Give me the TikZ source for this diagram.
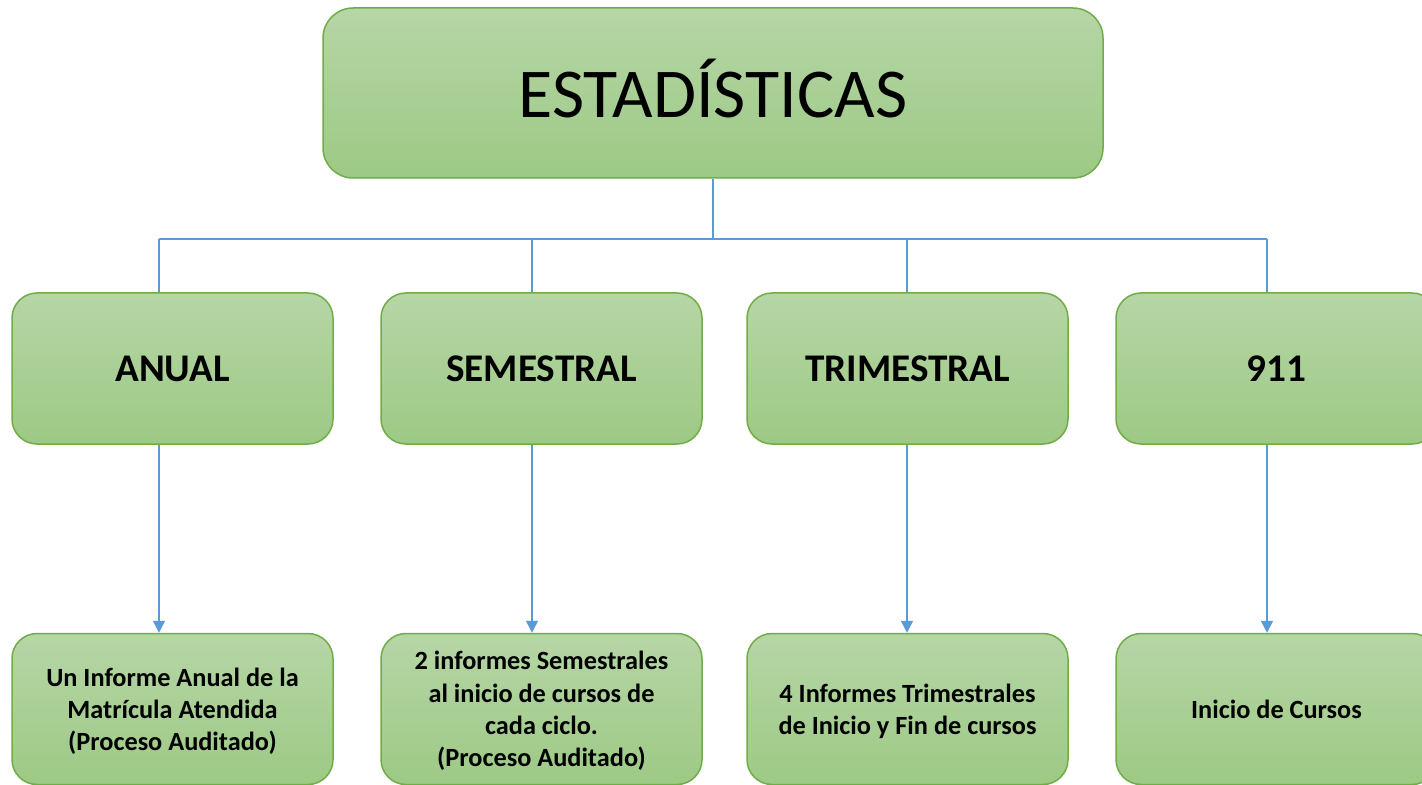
\documentclass[tikz,border=0pt]{standalone}
\usepackage{fontspec}
\setmainfont{Carlito}
\usetikzlibrary{arrows.meta}
\definecolor{gtop}{RGB}{182,214,166}
\definecolor{gbot}{RGB}{157,201,133}
\definecolor{gborder}{RGB}{112,173,71}
\definecolor{conncol}{RGB}{91,155,213}
\tikzset{
  greenbox/.style={draw=gborder, line width=0.75pt, rounded corners=12.5pt,
    top color=gtop, bottom color=gbot, minimum width=160.5pt, minimum height=75.5pt,
    inner sep=0pt, align=center, text=black},
  midlabel/.style={font=\fontsize{19.6}{23}\selectfont\bfseries},
  lowlabel/.style={font=\fontsize{13.15}{16.1}\selectfont\bfseries, text depth=0pt},
  conn/.style={draw=conncol, line width=0.75pt},
  arr/.style={conn, -{Triangle[width=6pt,length=6pt]}}
}
\begin{document}
\begin{tikzpicture}[x=0.5pt,y=-0.5pt]
\useasboundingbox (0,0) rectangle (1422,785);
% top
\node[greenbox, minimum width=390pt, minimum height=85pt, rounded corners=15pt,
  font=\fontsize{35}{40}\selectfont, text height=25pt, text depth=0pt] (top) at (713,93) {ESTAD\'ISTICAS};
% middle row
\node[greenbox, midlabel] (b1) at (172.5,368.5) {ANUAL};
\node[greenbox, midlabel] (b2) at (541.5,368.5) {SEMESTRAL};
\node[greenbox, midlabel] (b3) at (907.5,368.5) {TRIMESTRAL};
\node[greenbox, midlabel] (b4) at (1276.5,368.5) {911};
% bottom row
\node[greenbox, lowlabel] (c1) at (172.5,709) {Un Informe Anual de la\\Matr\'icula Atendida\\(Proceso Auditado)};
\node[greenbox, lowlabel] (c2) at (541.5,709) {2 informes Semestrales\\al inicio de cursos de\\cada ciclo.\\(Proceso Auditado)};
\node[greenbox, lowlabel] (c3) at (907.5,709) {4 Informes Trimestrales\\de Inicio y Fin de cursos};
\node[greenbox, lowlabel] (c4) at (1276.5,709) {Inicio de Cursos};
% connectors
\coordinate (d1) at (159,239);
\coordinate (d2) at (532,239);
\coordinate (d3) at (907,239);
\coordinate (d4) at (1267,239);
\draw[conn] (top.south) -- (top.south |- d1);
\draw[conn] (d1) -- (d4);
\draw[conn] (d1) -- (d1 |- b1.north);
\draw[conn] (d2) -- (d2 |- b2.north);
\draw[conn] (d3) -- (d3 |- b3.north);
\draw[conn] (d4) -- (d4 |- b4.north);
\draw[arr] (d1 |- b1.south) -- (d1 |- c1.north);
\draw[arr] (d2 |- b2.south) -- (d2 |- c2.north);
\draw[arr] (d3 |- b3.south) -- (d3 |- c3.north);
\draw[arr] (d4 |- b4.south) -- (d4 |- c4.north);
\end{tikzpicture}
\end{document}
